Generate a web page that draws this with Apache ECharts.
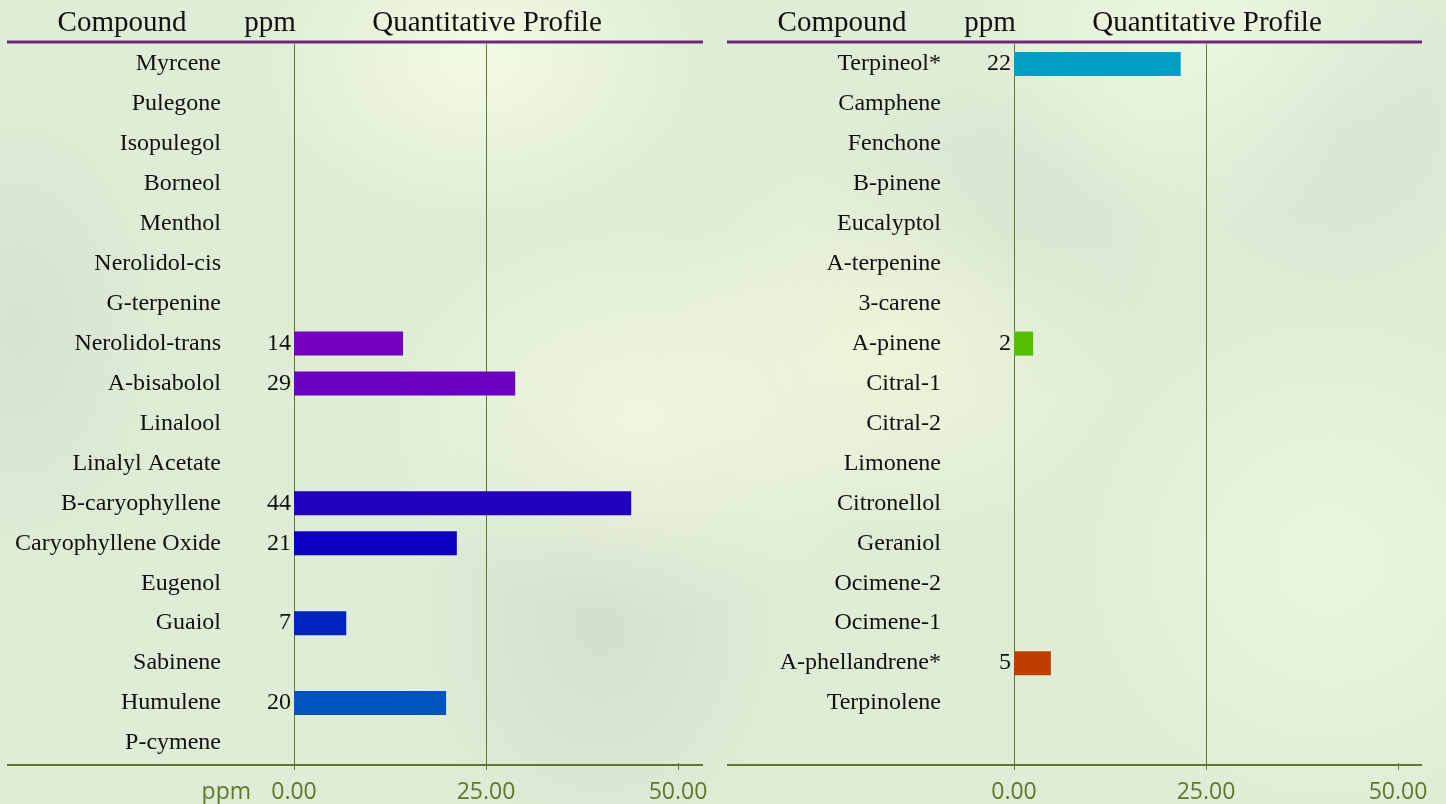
<!DOCTYPE html>
<html><head><meta charset="utf-8">
<script src="https://cdn.jsdelivr.net/npm/echarts@6/dist/echarts.min.js"></script>
<style>
html,body{margin:0;padding:0;width:1446px;height:804px;overflow:hidden;}
body{background:
 radial-gradient(ellipse 220px 160px at 480px 60px, rgba(245,252,228,0.9), rgba(245,252,228,0) 100%),
 radial-gradient(ellipse 260px 200px at 640px 420px, rgba(243,250,225,0.8), rgba(243,250,225,0) 100%),
 radial-gradient(ellipse 240px 200px at 1200px 30px, rgba(240,250,226,0.8), rgba(240,250,226,0) 100%),
 radial-gradient(ellipse 260px 260px at 1330px 560px, rgba(238,250,222,0.8), rgba(238,250,222,0) 100%),
 radial-gradient(ellipse 240px 200px at 900px 340px, rgba(242,250,220,0.7), rgba(242,250,220,0) 100%),
 radial-gradient(ellipse 200px 260px at 600px 620px, rgba(208,220,204,0.8), rgba(208,220,204,0) 100%),
 radial-gradient(ellipse 200px 180px at 1000px 230px, rgba(210,222,205,0.7), rgba(210,222,205,0) 100%),
 radial-gradient(ellipse 160px 260px at 20px 330px, rgba(210,222,206,0.7), rgba(210,222,206,0) 100%),
 radial-gradient(ellipse 200px 200px at 1340px 130px, rgba(212,224,208,0.7), rgba(212,224,208,0) 100%),
 #e0edd6;}
#c{width:1446px;height:804px;}
</style></head>
<body><div id="c"></div>
<script>
const leftCompounds = ["Myrcene","Pulegone","Isopulegol","Borneol","Menthol","Nerolidol-cis","G-terpenine","Nerolidol-trans","A-bisabolol","Linalool","Linalyl Acetate","B-caryophyllene","Caryophyllene Oxide","Eugenol","Guaiol","Sabinene","Humulene","P-cymene"];
const leftPpm = [null,null,null,null,null,null,null,14.2,28.8,null,null,43.9,21.2,null,6.8,null,19.8,null];
const rightCompounds = ["Terpineol*","Camphene","Fenchone","B-pinene","Eucalyptol","A-terpenine","3-carene","A-pinene","Citral-1","Citral-2","Limonene","Citronellol","Geraniol","Ocimene-2","Ocimene-1","A-phellandrene*","Terpinolene"];
const rightPpm = [21.7,null,null,null,null,null,null,2.49,null,null,null,null,null,null,null,4.8,null];
const tickValues = [0,25,50];
const headers = ["Compound","ppm","Quantitative Profile"];
const axisUnit = "ppm";

const leftColors = {7:"#7400c0",8:"#6a00c0",11:"#2200c0",12:"#0a00c0",14:"#0022c0",16:"#0055c0"};
const rightColors = {0:"#009ec4",7:"#55c000",15:"#c03c00"};

const olive = "#5c7a2c";
const serif = "'Liberation Serif','DejaVu Serif',serif";
const sans = "'Open Sans'";
const AXMAX = 53.25;

function pad(arr, n, v){ const a = arr.slice(); while(a.length<n) a.push(v); return a; }

function mkData(vals, colors){
  return vals.map((v,i)=> v==null ? null : {value:v, itemStyle:{color:colors[i]||'#555'}});
}

function xAxisCfg(idx){
  return {
    type:'value', gridIndex:idx, min:0, max:AXMAX, interval:25,
    axisLine:{show:false},
    axisTick:{show:true, length:7, lineStyle:{color:olive,width:1}, customValues:tickValues},
    axisLabel:{show:true, customValues:tickValues, color:olive, fontFamily:sans, fontSize:23, margin:18,
      formatter:(v)=>v.toFixed(2)},
    splitLine:{show:true, showMaxLine:false, lineStyle:{color:olive,width:1}}
  };
}
function yAxisCfg(idx, cats){
  return {type:'category', gridIndex:idx, data:cats, inverse:true,
    axisLine:{show:false}, axisTick:{show:false}, splitLine:{show:false},
    axisLabel:{color:'#111', fontFamily:serif, fontSize:24, margin:73, interval:0}};
}
function barSeries(idx, data){
  return {type:'bar', xAxisIndex:idx, yAxisIndex:idx, data:data, barWidth:24,
    label:{show:true, position:'left', distance:3, color:'#111', fontFamily:serif, fontSize:24,
      formatter:(p)=>String(Math.round(p.value))}};
}

const chart = echarts.init(document.getElementById('c'), null, {renderer:'canvas'});
const grids = [
  {left:294, right:1446-703, top:44, bottom:40},
  {left:1014, right:1446-1423, top:44, bottom:40}
];
const n = leftCompounds.length;

function headerTexts(xs){
  return headers.map((h,i)=>({type:'text', x:xs[i], y:23, style:{text:h, font:"29px "+serif, fill:'#111', textAlign:'center', textVerticalAlign:'middle'}}));
}

chart.setOption({
  animation:false,
  grid:grids,
  xAxis:[xAxisCfg(0), xAxisCfg(1)],
  yAxis:[yAxisCfg(0,leftCompounds), yAxisCfg(1,pad(rightCompounds,n,''))],
  series:[barSeries(0, mkData(leftPpm,leftColors)), barSeries(1, mkData(pad(rightPpm,n,null),rightColors))],
  graphic:[
    ...headerTexts([122,270,487]),
    ...headerTexts([842,990,1207]),
    {type:'text', x:251, y:792, style:{text:axisUnit, font:"23px "+sans, fill:olive, textAlign:'right', textVerticalAlign:'middle'}},
    {type:'rect', shape:{x:7,y:40.5,width:696,height:3}, style:{fill:'#6b2a7c'}},
    {type:'rect', shape:{x:727,y:40.5,width:695,height:3}, style:{fill:'#6b2a7c'}},
    {type:'line', shape:{x1:7,y1:765,x2:703,y2:765}, style:{stroke:olive,lineWidth:2}},
    {type:'line', shape:{x1:727,y1:765,x2:1422,y2:765}, style:{stroke:olive,lineWidth:2}}
  ]
});
</script>
</body></html>
